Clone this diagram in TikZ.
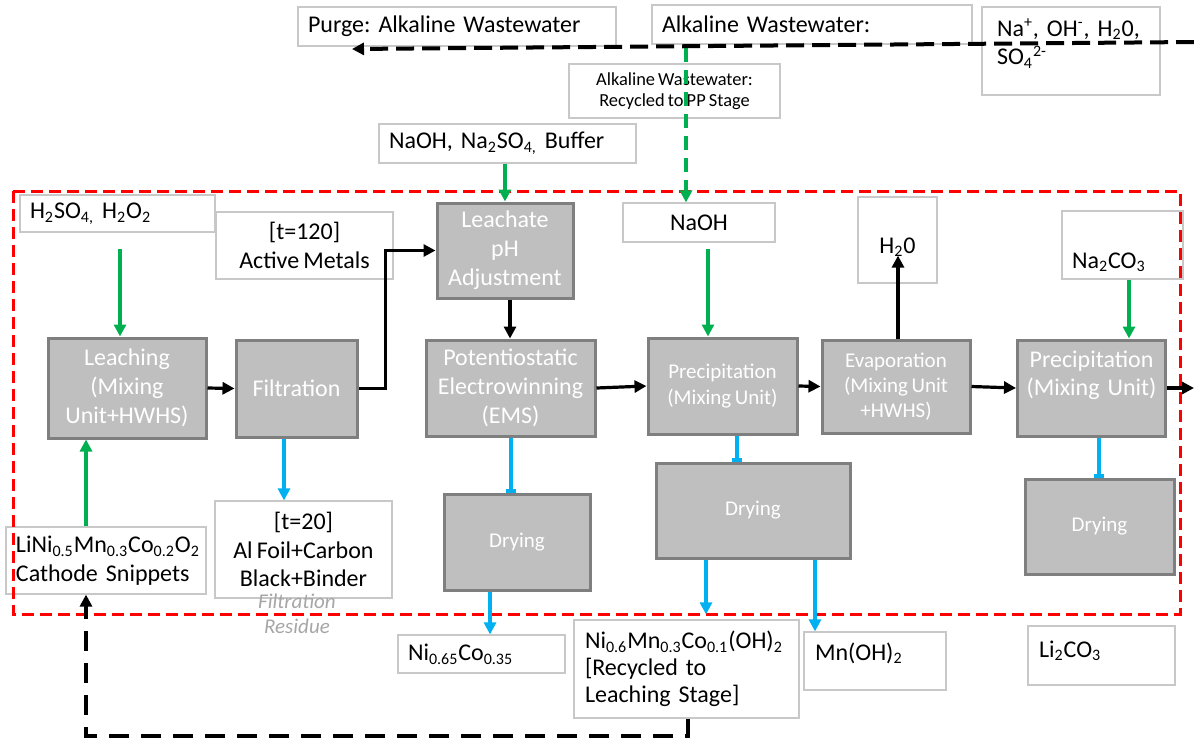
\documentclass[tikz,border=0pt]{standalone}
\usepackage{fontspec}
\setmainfont{Carlito}[WordSpace=0.75]
\usepackage{tikz}
\usetikzlibrary{arrows.meta}
\frenchspacing

\definecolor{procgray}{HTML}{BFBFBF}
\definecolor{procedge}{HTML}{7F7F7F}
\definecolor{lblgray}{HTML}{C8C8C8}
\definecolor{feedgreen}{HTML}{00B050}
\definecolor{prodblue}{HTML}{00B0F0}
\definecolor{residuegray}{HTML}{A6A6A6}

\begin{document}
\begin{tikzpicture}
		[
			x=0.5pt, y=-0.5pt,
			proc/.style = {rectangle, align=center, draw=procedge, line width=1.5pt, fill=procgray, text=white, inner sep=2pt, font=\fontsize{12}{14.4}\selectfont},
			procs/.style = {proc, font=\fontsize{10.5}{12.6}\selectfont},
			lbl/.style = {rectangle, align=center, draw=lblgray, line width=0.6pt, fill=white, inner sep=0pt, font=\fontsize{12}{14.4}\selectfont},
			lbll/.style = {lbl, align=left, inner xsep=5pt},
			residue/.style = {align=center, text=residuegray, font=\fontsize{10.5}{12.5}\selectfont\itshape},
			flow/.style = {-{Triangle[length=6pt,width=6pt]}, line width=1.6pt},
			feed/.style = {flow, draw=feedgreen},
			prod/.style = {flow, draw=prodblue},
			prodbar/.style = {-{Bar[width=5pt]}, line width=1.6pt, draw=prodblue},
			wastedash/.style = {flow, line width=2pt, dash pattern=on 9pt off 4pt},
			recycledash/.style = {flow, line width=2pt, dash pattern=on 10pt off 6pt},
			feeddash/.style = {feed, dash pattern=on 7pt off 4pt},
			boundary/.style = {draw=red, line width=1.5pt, dash pattern=on 6pt off 3pt},
		]

		\useasboundingbox (0,0) rectangle (1194,740);

		% wastewater boxes on top
		\node[lbll, text width=149pt, minimum height=19.5pt] (purge) at (457,26.5) {Purge: Alkaline Wastewater};
		\node[lbll, text width=150pt, minimum height=19.5pt] (alkww) at (812,24.5) {Alkaline Wastewater:};
		\node[lbll, text width=74pt, inner xsep=7.5pt, text height=14.5pt, text depth=29.5pt] (ions) at (1071,51)
			{Na\textsuperscript{+}, OH\textsuperscript{-}, H\textsubscript{2}0,\\SO\textsubscript{4}\textsuperscript{2-}};
		\node[lbl, minimum width=105.5pt, minimum height=27pt, font=\fontsize{9.2}{10.5}\selectfont] (recyc) at (674.5,91)
			{Alkaline Wastewater:\\Recycled to PP Stage};
		\node[lbll, text width=118.5pt, minimum height=19.5pt] (buffer) at (507.5,143.5) {NaOH, Na\textsubscript{2}SO\textsubscript{4,} Buffer};

		% reagents and streams
		\node[lbll, text width=87.5pt, minimum height=18.5pt] (acid) at (117.5,213.5) {H\textsubscript{2}SO\textsubscript{4,} H\textsubscript{2}O\textsubscript{2}};
		\node[lbl, minimum width=88.5pt, minimum height=33.5pt] (active) at (304.5,245.5) {[t=120]\\Active Metals};
		\node[lbl, minimum width=76pt, minimum height=19.5pt] (naoh) at (699,222.5) {NaOH};
		\node[lbl, minimum width=39.5pt, text height=28pt, text depth=15pt] (water) at (897.5,240) {H\textsubscript{2}0};
		\node[lbll, text width=50.5pt, text height=28.5pt, text depth=5.5pt] (soda) at (1122.5,245) {Na\textsubscript{2}CO\textsubscript{3}};

		% process units
		\node[proc, minimum width=68pt, minimum height=47.5pt] (leachate) at (505,250.5) {Leachate\\pH\\Adjustment};
		\node[proc, minimum width=79pt, minimum height=50pt] (leach) at (127,388) {Leaching\\(Mixing\\Unit+HWHS)};
		\node[proc, minimum width=60.5pt, minimum height=48.5pt] (filt) at (296.5,388.5) {Filtration};
		\node[proc, minimum width=84.5pt, minimum height=48pt] (ew) at (510.5,388) {Potentiostatic\\Electrowinning\\(EMS)};
		\node[procs, minimum width=74.5pt, minimum height=48pt] (prec1) at (722.5,386) {Precipitation\\(Mixing Unit)};
		\node[procs, minimum width=74pt, minimum height=46.5pt] (evap) at (896,386.5) {Evaporation\\(Mixing Unit\\+HWHS)};
		\node[proc, text width=70pt, inner ysep=0pt, text height=13.5pt, text depth=34.5pt] (prec2) at (1091.5,388) {Precipitation\\(Mixing Unit)};
		\node[procs, minimum width=73pt, minimum height=48pt] (dry1) at (517,542) {Drying};
		\node[procs, minimum width=97pt, minimum height=47.5pt] (dry2) at (753,510.5) {Drying};
		\node[procs, minimum width=74.5pt, minimum height=47.5pt] (dry3) at (1099.5,526.5) {Drying};

		% solids and products
		\node[lbll, text width=90pt, minimum height=33.5pt] (cathode) at (106,560.5)
			{LiNi\textsubscript{0.5}Mn\textsubscript{0.3}Co\textsubscript{0.2}O\textsubscript{2}\\Cathode Snippets};
		\node[lbl, minimum width=88.5pt, minimum height=48.5pt] (foil) at (303.5,549.5) {[t=20]\\Al Foil+Carbon\\Black+Binder};
		\node[residue] (resid) at (297,614) {Filtration\\Residue};
		\node[lbll, text width=73.5pt, minimum height=19pt] (nico) at (481.5,654) {Ni\textsubscript{0.65}Co\textsubscript{0.35}};
		\node[lbll, text width=101.5pt, inner xsep=5.5pt, minimum height=49pt, font=\fontsize{12}{13.6}\selectfont] (nmc) at (686.5,669)
			{Ni\textsubscript{0.6}Mn\textsubscript{0.3}Co\textsubscript{0.1}(OH)\textsubscript{2}\\{[Recycled to}\\Leaching Stage]};
		\node[lbll, text width=60pt, inner xsep=5.5pt, text height=14pt, text depth=15pt] (mnoh) at (875,661) {Mn(OH)\textsubscript{2}};
		\node[lbll, text width=62.5pt, inner xsep=5.5pt, text height=15.5pt, text depth=14pt] (lico) at (1101.5,655.5) {Li\textsubscript{2}CO\textsubscript{3}};

		% system boundary
		\draw[boundary] (13,191) rectangle (1180,614);

		\coordinate (drain) at (1194,42);
		\coordinate (purgeend) at (352,49);
		\coordinate (tap) at (686,48);
		\coordinate (exit) at (1194,388);

		% main line
		\foreach \from/\to in {leach/filt,ew/prec1,prec1/evap,evap/prec2}
		\draw[flow] (\from.east) -- (\to.west);
		\draw[flow] (filt.east) -| ([xshift=-25pt]leachate.west) -- (leachate.west);
		\draw[flow] (leachate.south -| 510,0) -- (ew.north -| 510,0);
		\draw[flow] (evap.north -| 898,0) -- ([yshift=14pt]water.south -| 898,0);
		\draw[flow] (prec2.east) -- (exit);

		% reagent feeds
		\draw[feed, shorten <=8pt] (acid.south -| 120,0) -- (leach.north -| 120,0);
		\draw[feed] (buffer.south -| 505,0) -- (leachate.north);
		\draw[feed, shorten <=3pt] (naoh.south -| 708,0) -- (prec1.north -| 708,0);
		\draw[feed] (soda.south -| 1129,0) -- (prec2.north -| 1129,0);
		\draw[feed] (cathode.north -| 86,0) -- (leach.south -| 86,0);
		\draw[feeddash] (tap) -- (naoh.north -| tap);

		% solids out
		\draw[prod] (filt.south -| 284,0) -- (foil.north -| 284,0);
		\draw[prodbar] (ew.south -| 511,0) -- (dry1.north -| 511,0);
		\draw[prodbar] (prec1.south -| 737,0) -- (dry2.north -| 737,0);
		\draw[prodbar] (prec2.south -| 1099,0) -- (dry3.north -| 1099,0);
		\draw[prod] (dry1.south -| 490,0) -- (nico.north -| 490,0);
		\draw[prod] (dry2.south -| 706,0) -- ([yshift=2.5pt]nmc.north -| 706,0);
		\draw[prod] (dry2.south -| 815,0) -- (mnoh.north -| 815,0);

		% wastewater and recycle
		\draw[wastedash] (drain) -- (purgeend);
		\draw[recycledash] (nmc.south -| 688,0) -- ++(0,17) -| (cathode.south -| 86,0);

\end{tikzpicture}
\end{document}
